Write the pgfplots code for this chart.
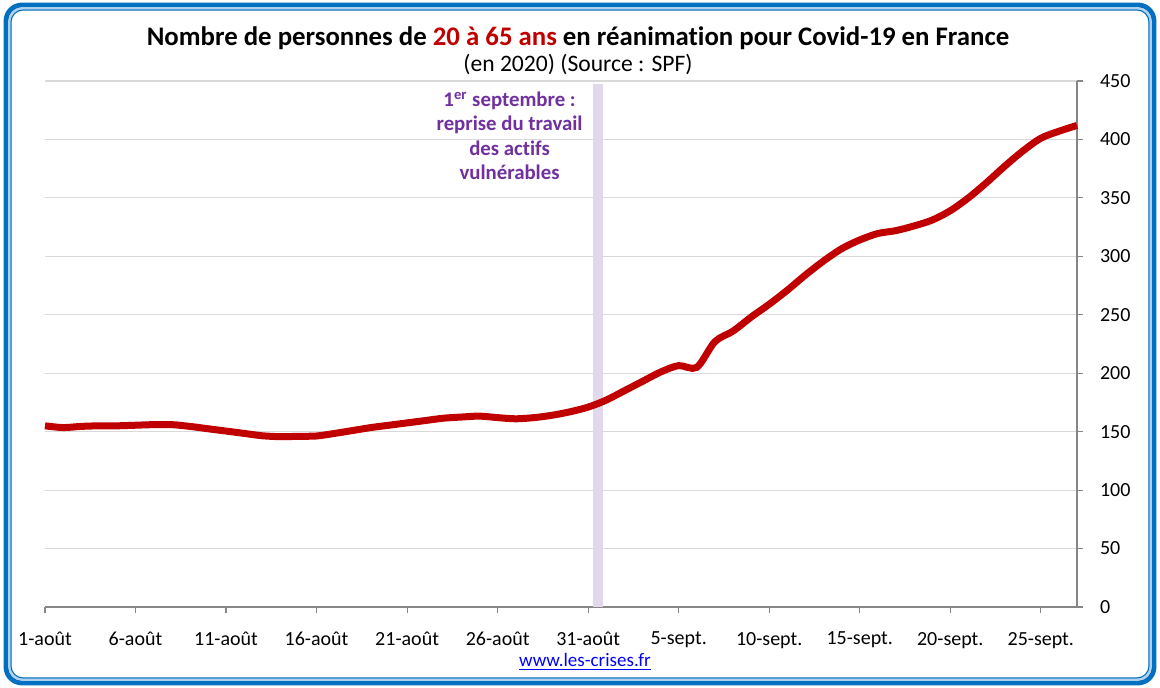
\documentclass[border=0pt]{standalone}
\usepackage{fontspec}
\setmainfont{Carlito}[Ligatures=NoCommon]
\usepackage{pgfplots}
\pgfplotsset{compat=1.18}

\definecolor{bordblue}{RGB}{0,112,192}
\definecolor{lightbord}{RGB}{180,210,240}
\definecolor{redline}{RGB}{192,0,0}
\definecolor{purp}{RGB}{112,48,160}
\definecolor{band}{RGB}{226,216,236}
\definecolor{gridgray}{RGB}{217,217,217}
\definecolor{axgray}{RGB}{134,134,134}

\begin{document}
\begin{tikzpicture}
\useasboundingbox (0,0) rectangle (580pt,344pt);
% cadre
\draw[bordblue, line width=2.4pt, rounded corners=8pt] (3pt,2.5pt) rectangle (577pt,341.5pt);
\draw[lightbord, line width=1pt, rounded corners=6.5pt] (4.7pt,4.2pt) rectangle (575.3pt,339.8pt);
\draw[bordblue, line width=0.6pt, rounded corners=6pt] (5.5pt,5pt) rectangle (574.5pt,339pt);

\node[font=\fontsize{13.4}{15}\selectfont\bfseries] at (289pt,325pt)
  {Nombre de personnes de \textcolor{redline}{20 à 65 ans} en réanimation pour Covid-19 en France};
\node[font=\fontsize{11.8}{13}\selectfont] at (289pt,311.5pt) {(en 2020) (Source : SPF)};
\node[font=\fontsize{9.5}{11}\selectfont, text=blue] at (292.5pt,13pt) {\underline{www.les-crises.fr}};

\begin{axis}[
    at={(22.5pt,40.5pt)}, anchor=south west,
    width=516pt, height=263pt, scale only axis,
    xmin=0, xmax=57, ymin=0, ymax=450,
    axis x line*=bottom, axis y line*=right,
    axis line style={axgray, line width=0.6pt},
    tick align=outside,
    major tick length=3pt,
    tick style={axgray, line width=0.6pt},
    xtick={0,5,...,55},
    xticklabels={1-août,6-août,11-août,16-août,21-août,26-août,31-août,5-sept.,10-sept.,15-sept.,20-sept.,25-sept.},
    ytick={0,50,...,450},
    ymajorgrids,
    grid style={gridgray, line width=0.6pt},
    ticklabel style={font=\fontsize{10}{12}\selectfont},
    /pgf/number format/assume math mode=true,
    xticklabel style={yshift=-6pt},
    yticklabel style={xshift=5pt},
    clip=false,
]
\addplot[fill=band, draw=none] coordinates {(30.28,0) (30.83,0) (30.83,447) (30.28,447)} -- cycle;
\addplot[redline, line width=3.5pt, smooth, tension=0.5] coordinates {
(0,155) (1,153.5) (2,154.5) (3,155) (4,155) (5,155.5) (6,156) (7,156)
(8,154.5) (9,152.5) (10,150.5) (11,148.5) (12,146.5) (13,145.7) (14,146) (15,146.3)
(16,148.5) (17,151) (18,153.5) (19,155.5) (20,157.5) (21,159.5) (22,161.5) (23,162.5)
(24,163.3) (25,162) (26,161) (27,162) (28,164) (29,167) (30,171) (31,177)
(32,185) (33,193) (34,201) (35,206.5) (36,205) (37,227) (38,236) (39,248)
(40,259) (41,271) (42,284) (43,296) (44,306.5) (45,314) (46,319.5) (47,322)
(48,326) (49,331) (50,339) (51,350) (52,363) (53,377) (54,390) (55,401)
(56,407) (57,412)
};
\node[align=center, text=purp, font=\fontsize{10.4}{12.25}\selectfont\bfseries]
  at (axis cs:25.66,403) {1\textsuperscript{er} septembre :\\reprise du travail\\des actifs\\vulnérables};
\end{axis}
\end{tikzpicture}
\end{document}
